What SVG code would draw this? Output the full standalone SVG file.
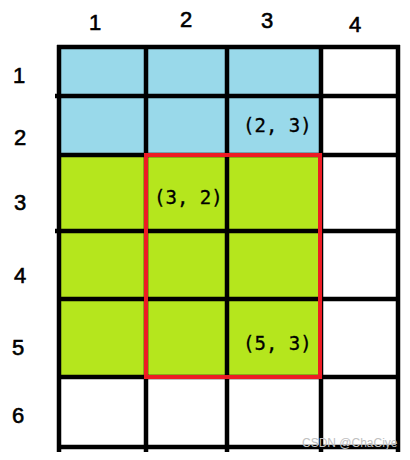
<svg xmlns="http://www.w3.org/2000/svg" width="410" height="460" viewBox="0 0 410 460">
<style>
.num{font-family:"Liberation Sans",Arial,sans-serif;font-size:22px;fill:#000;stroke:#000;stroke-width:0.6;text-anchor:middle}
.coord{font-family:"DejaVu Sans Mono","Liberation Mono",monospace;font-size:19px;fill:#000;stroke:#000;stroke-width:0.3}
.grid line{stroke:#000;stroke-width:4.5}
.wm{font-family:"Liberation Sans",Arial,sans-serif;font-size:12px;fill:#c0c0c0}
</style>
<rect width="410" height="460" fill="#fff"/>
<g id="fills">
<rect x="59" y="47" width="262" height="108" fill="#99D9EA"/>
<rect x="59" y="155" width="262" height="222" fill="#B5E61D"/>
</g>
<g id="grid" class="grid">
<line x1="59" y1="45" x2="59" y2="452"/>
<line x1="146" y1="45" x2="146" y2="452"/>
<line x1="227" y1="45" x2="227" y2="452"/>
<line x1="321" y1="45" x2="321" y2="452"/>
<line x1="398" y1="45" x2="398" y2="452"/>
<line x1="57" y1="47" x2="400" y2="47"/>
<line x1="55" y1="96" x2="400" y2="96"/>
<line x1="57" y1="155" x2="400" y2="155"/>
<line x1="55" y1="231" x2="400" y2="231"/>
<line x1="57" y1="299" x2="400" y2="299"/>
<line x1="57" y1="377" x2="400" y2="377"/>
<line x1="57" y1="447" x2="400" y2="447"/>
</g>
<g id="highlight">
<rect x="146" y="155" width="174" height="222" fill="none" stroke="#ED1C24" stroke-width="4"/>
</g>
<g id="col-labels">
<text class="num" x="95" y="30">1</text>
<text class="num" x="186" y="27">2</text>
<text class="num" x="267" y="28">3</text>
<text class="num" x="355" y="32">4</text>
</g>
<g id="row-labels">
<text class="num" x="19" y="83">1</text>
<text class="num" x="20" y="145">2</text>
<text class="num" x="20" y="210">3</text>
<text class="num" x="20" y="283">4</text>
<text class="num" x="18" y="355">5</text>
<text class="num" x="18" y="423">6</text>
</g>
<g id="coords">
<text class="coord" x="243" y="132">(2, 3)</text>
<text class="coord" x="154" y="204">(3, 2)</text>
<text class="coord" x="243" y="350">(5, 3)</text>
</g>
<text class="wm" x="302" y="447">CSDN @ChaCiye</text>
</svg>
